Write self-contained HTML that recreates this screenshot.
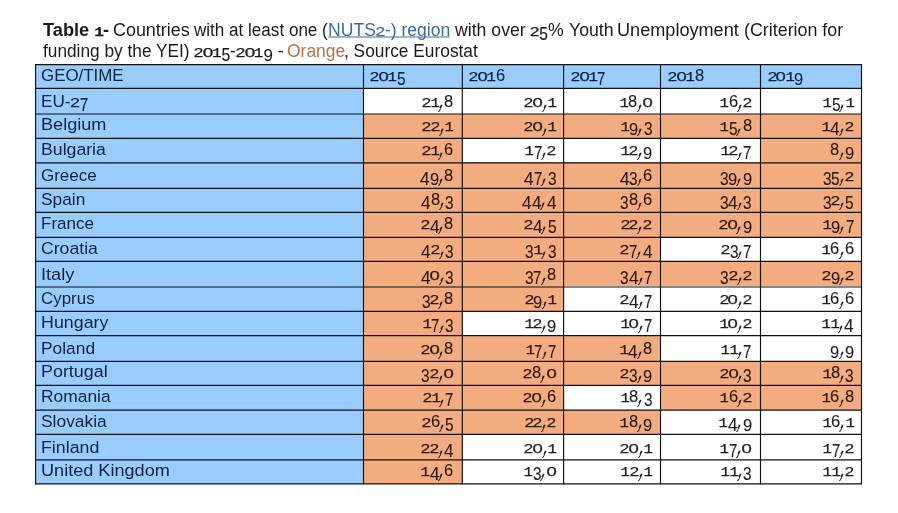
<!DOCTYPE html>
<html lang="en"><head><meta charset="utf-8"><title>Table 1 - Youth Unemployment</title>
<style>
html,body{margin:0;padding:0;background:#fff}
body{width:898px;height:513px;position:relative;overflow:hidden;font-family:"Liberation Sans",sans-serif;font-size:16.8px;color:#1a1a1a}
.t{position:absolute;white-space:nowrap;line-height:0;transform-origin:0 0}
.r{transform-origin:100% 0}
table{position:absolute;left:35px;top:64px;border-collapse:separate;border-spacing:0;table-layout:fixed;width:827px}
td,th{padding:0;margin:0;font-weight:normal;position:relative;line-height:0;text-align:left}
.b{background:#99CCFF;color:#12223d} .o{background:#F3AC80;color:#2a1910} .w{background:#fff;color:#1e1e1e}
a{color:#3b6b9e;text-decoration:none}
svg{position:absolute;left:0;top:0;pointer-events:none}
i.d{display:inline-block;font-style:normal;transform-origin:0 50%;text-align:left;line-height:0}
.dc{width:5.2px;transform:translate(2.9px,-3.0px) skewX(-22deg) scale(1.05,1.7)}
.d0,.d1,.d2{-webkit-text-stroke:0.25px currentColor}
.d3,.d4,.d5,.d6,.d7,.d8,.d9{-webkit-text-stroke:0.1px currentColor}
.d0{width:9.5px;font-size:12.0px;transform:translateX(-0.39px) scaleX(1.540)}
.d1{width:8.4px;font-size:12.0px;font-family:"Liberation Mono",monospace;transform:translateX(-0.48px) scaleX(1.300)}
.d2{width:8.8px;font-size:12.0px;transform:translateX(-0.27px) scaleX(1.400)}
.d3{width:8.6px;font-size:17.8px;transform:translateY(3.8px) scaleX(0.869)}
.d4{width:9.6px;font-size:17.8px;transform:translateY(3.8px) scaleX(0.970)}
.d5{width:8.6px;font-size:17.8px;transform:translateY(3.8px) scaleX(0.869)}
.d6{width:9.2px;font-size:16.6px;transform:scaleX(0.997)}
.d7{width:8.4px;font-size:17.8px;transform:translateY(3.8px) scaleX(0.849)}
.d8{width:9.2px;font-size:16.6px;transform:scaleX(0.997)}
.d9{width:9.2px;font-size:16.6px;transform:translateY(3.8px) scaleX(0.997)}
</style></head>
<body>
<p style="margin:0"><span class="t" style="top:30.00px;font-size:17.6px;font-weight:bold;left:43.10px;transform:scaleX(1.0361);">Table <i class="d d1">1</i>-</span>
<span class="t" style="top:30.00px;font-size:17.6px;left:113.40px;transform:scaleX(1.0184);">Countries</span>
<span class="t" style="top:30.00px;font-size:17.6px;left:194.20px;transform:scaleX(0.9703);">with at least one (</span>
<span class="t" style="top:30.00px;font-size:17.6px;left:328.10px;"><a>NUTS<i class="d d2">2</i>-) region</a></span>
<span class="t" style="top:30.00px;font-size:17.6px;left:454.80px;transform:scaleX(1.0042);">with over <i class="d d2">2</i><i class="d d5">5</i>%</span>
<span class="t" style="top:30.00px;font-size:17.6px;left:568.80px;transform:scaleX(1.0051);">Youth</span>
<span class="t" style="top:30.00px;font-size:17.6px;left:617.20px;transform:scaleX(1.0293);">Unemployment</span>
<span class="t" style="top:30.00px;font-size:17.6px;left:743.70px;transform:scaleX(1.0147);">(Criterion for</span>
<span class="t" style="top:51.00px;font-size:17.6px;left:43.20px;transform:scaleX(0.9817);">funding by the YEI)</span>
<span class="t" style="top:51.00px;font-size:17.6px;left:193.60px;transform:scaleX(1.0220);"><i class="d d2">2</i><i class="d d0">0</i><i class="d d1">1</i><i class="d d5">5</i>-<i class="d d2">2</i><i class="d d0">0</i><i class="d d1">1</i><i class="d d9">9</i> -</span>
<span class="t" style="top:51.00px;font-size:17.6px;left:287.30px;transform:scaleX(0.9917);color:#b4734a;">Orange</span>
<span class="t" style="top:51.00px;font-size:17.6px;left:344.20px;transform:scaleX(0.9843);">, Source Eurostat</span></p>
<table><colgroup>
<col style="width:328px">
<col style="width:99px">
<col style="width:101px">
<col style="width:97px">
<col style="width:100px">
<col style="width:101px">
</colgroup>
<tr style="height:24px">
<th class="b"><span class="t" style="top:12.00px;left:6.20px;transform:scaleX(1.0067);">GEO/TIME</span></th>
<th class="b"><span class="t" style="top:11.00px;font-size:18px;left:6.70px;"><i class="d d2">2</i><i class="d d0">0</i><i class="d d1">1</i><i class="d d5">5</i></span></th>
<th class="b"><span class="t" style="top:11.00px;font-size:18px;left:6.40px;"><i class="d d2">2</i><i class="d d0">0</i><i class="d d1">1</i><i class="d d6">6</i></span></th>
<th class="b"><span class="t" style="top:11.00px;font-size:18px;left:7.10px;"><i class="d d2">2</i><i class="d d0">0</i><i class="d d1">1</i><i class="d d7">7</i></span></th>
<th class="b"><span class="t" style="top:11.00px;font-size:18px;left:7.10px;"><i class="d d2">2</i><i class="d d0">0</i><i class="d d1">1</i><i class="d d8">8</i></span></th>
<th class="b"><span class="t" style="top:11.00px;font-size:18px;left:6.70px;"><i class="d d2">2</i><i class="d d0">0</i><i class="d d1">1</i><i class="d d9">9</i></span></th>
</tr>
<tr style="height:26px">
<td class="b"><span class="t" style="top:13.00px;left:5.50px;transform:scaleX(1.0218);">EU-<i class="d d2">2</i><i class="d d7">7</i></span></td>
<td class="w"><span class="t r" style="top:13.00px;font-size:18px;right:9.00px;"><i class="d d2">2</i><i class="d d1">1</i><i class="d dc">,</i><i class="d d8">8</i></span></td>
<td class="w"><span class="t r" style="top:13.00px;font-size:18px;right:7.50px;"><i class="d d2">2</i><i class="d d0">0</i><i class="d dc">,</i><i class="d d1">1</i></span></td>
<td class="w"><span class="t r" style="top:13.00px;font-size:18px;right:8.50px;"><i class="d d1">1</i><i class="d d8">8</i><i class="d dc">,</i><i class="d d0">0</i></span></td>
<td class="w"><span class="t r" style="top:13.00px;font-size:18px;right:9.00px;"><i class="d d1">1</i><i class="d d6">6</i><i class="d dc">,</i><i class="d d2">2</i></span></td>
<td class="w"><span class="t r" style="top:13.00px;font-size:18px;right:8.00px;"><i class="d d1">1</i><i class="d d5">5</i><i class="d dc">,</i><i class="d d1">1</i></span></td>
</tr>
<tr style="height:24px">
<td class="b"><span class="t" style="top:11.00px;left:5.50px;transform:scaleX(1.0785);">Belgium</span></td>
<td class="o"><span class="t r" style="top:11.00px;font-size:18px;right:9.00px;"><i class="d d2">2</i><i class="d d2">2</i><i class="d dc">,</i><i class="d d1">1</i></span></td>
<td class="o"><span class="t r" style="top:11.00px;font-size:18px;right:7.50px;"><i class="d d2">2</i><i class="d d0">0</i><i class="d dc">,</i><i class="d d1">1</i></span></td>
<td class="o"><span class="t r" style="top:11.00px;font-size:18px;right:8.50px;"><i class="d d1">1</i><i class="d d9">9</i><i class="d dc">,</i><i class="d d3">3</i></span></td>
<td class="o"><span class="t r" style="top:11.00px;font-size:18px;right:9.00px;"><i class="d d1">1</i><i class="d d5">5</i><i class="d dc">,</i><i class="d d8">8</i></span></td>
<td class="o"><span class="t r" style="top:11.00px;font-size:18px;right:8.00px;"><i class="d d1">1</i><i class="d d4">4</i><i class="d dc">,</i><i class="d d2">2</i></span></td>
</tr>
<tr style="height:24px">
<td class="b"><span class="t" style="top:12.00px;left:5.50px;transform:scaleX(1.0539);">Bulgaria</span></td>
<td class="o"><span class="t r" style="top:11.00px;font-size:18px;right:9.00px;"><i class="d d2">2</i><i class="d d1">1</i><i class="d dc">,</i><i class="d d6">6</i></span></td>
<td class="w"><span class="t r" style="top:11.00px;font-size:18px;right:7.50px;"><i class="d d1">1</i><i class="d d7">7</i><i class="d dc">,</i><i class="d d2">2</i></span></td>
<td class="w"><span class="t r" style="top:11.00px;font-size:18px;right:8.50px;"><i class="d d1">1</i><i class="d d2">2</i><i class="d dc">,</i><i class="d d9">9</i></span></td>
<td class="w"><span class="t r" style="top:11.00px;font-size:18px;right:9.00px;"><i class="d d1">1</i><i class="d d2">2</i><i class="d dc">,</i><i class="d d7">7</i></span></td>
<td class="o"><span class="t r" style="top:11.00px;font-size:18px;right:8.00px;"><i class="d d8">8</i><i class="d dc">,</i><i class="d d9">9</i></span></td>
</tr>
<tr style="height:26px">
<td class="b"><span class="t" style="top:14.00px;left:6.20px;transform:scaleX(1.0103);">Greece</span></td>
<td class="o"><span class="t r" style="top:13.00px;font-size:18px;right:9.00px;"><i class="d d4">4</i><i class="d d9">9</i><i class="d dc">,</i><i class="d d8">8</i></span></td>
<td class="o"><span class="t r" style="top:13.00px;font-size:18px;right:7.50px;"><i class="d d4">4</i><i class="d d7">7</i><i class="d dc">,</i><i class="d d3">3</i></span></td>
<td class="o"><span class="t r" style="top:13.00px;font-size:18px;right:8.50px;"><i class="d d4">4</i><i class="d d3">3</i><i class="d dc">,</i><i class="d d6">6</i></span></td>
<td class="o"><span class="t r" style="top:13.00px;font-size:18px;right:9.00px;"><i class="d d3">3</i><i class="d d9">9</i><i class="d dc">,</i><i class="d d9">9</i></span></td>
<td class="o"><span class="t r" style="top:13.00px;font-size:18px;right:8.00px;"><i class="d d3">3</i><i class="d d5">5</i><i class="d dc">,</i><i class="d d2">2</i></span></td>
</tr>
<tr style="height:24px">
<td class="b"><span class="t" style="top:12.00px;left:6.20px;transform:scaleX(1.0321);">Spain</span></td>
<td class="o"><span class="t r" style="top:11.00px;font-size:18px;right:9.00px;"><i class="d d4">4</i><i class="d d8">8</i><i class="d dc">,</i><i class="d d3">3</i></span></td>
<td class="o"><span class="t r" style="top:11.00px;font-size:18px;right:7.50px;"><i class="d d4">4</i><i class="d d4">4</i><i class="d dc">,</i><i class="d d4">4</i></span></td>
<td class="o"><span class="t r" style="top:11.00px;font-size:18px;right:8.50px;"><i class="d d3">3</i><i class="d d8">8</i><i class="d dc">,</i><i class="d d6">6</i></span></td>
<td class="o"><span class="t r" style="top:11.00px;font-size:18px;right:9.00px;"><i class="d d3">3</i><i class="d d4">4</i><i class="d dc">,</i><i class="d d3">3</i></span></td>
<td class="o"><span class="t r" style="top:11.00px;font-size:18px;right:8.00px;"><i class="d d3">3</i><i class="d d2">2</i><i class="d dc">,</i><i class="d d5">5</i></span></td>
</tr>
<tr style="height:25px">
<td class="b"><span class="t" style="top:12.00px;left:5.50px;transform:scaleX(1.0166);">France</span></td>
<td class="o"><span class="t r" style="top:11.00px;font-size:18px;right:9.00px;"><i class="d d2">2</i><i class="d d4">4</i><i class="d dc">,</i><i class="d d8">8</i></span></td>
<td class="o"><span class="t r" style="top:11.00px;font-size:18px;right:7.50px;"><i class="d d2">2</i><i class="d d4">4</i><i class="d dc">,</i><i class="d d5">5</i></span></td>
<td class="o"><span class="t r" style="top:11.00px;font-size:18px;right:8.50px;"><i class="d d2">2</i><i class="d d2">2</i><i class="d dc">,</i><i class="d d2">2</i></span></td>
<td class="o"><span class="t r" style="top:11.00px;font-size:18px;right:9.00px;"><i class="d d2">2</i><i class="d d0">0</i><i class="d dc">,</i><i class="d d9">9</i></span></td>
<td class="o"><span class="t r" style="top:11.00px;font-size:18px;right:8.00px;"><i class="d d1">1</i><i class="d d9">9</i><i class="d dc">,</i><i class="d d7">7</i></span></td>
</tr>
<tr style="height:24px">
<td class="b"><span class="t" style="top:12.00px;left:6.20px;transform:scaleX(1.0516);">Croatia</span></td>
<td class="o"><span class="t r" style="top:11.00px;font-size:18px;right:9.00px;"><i class="d d4">4</i><i class="d d2">2</i><i class="d dc">,</i><i class="d d3">3</i></span></td>
<td class="o"><span class="t r" style="top:11.00px;font-size:18px;right:7.50px;"><i class="d d3">3</i><i class="d d1">1</i><i class="d dc">,</i><i class="d d3">3</i></span></td>
<td class="o"><span class="t r" style="top:11.00px;font-size:18px;right:8.50px;"><i class="d d2">2</i><i class="d d7">7</i><i class="d dc">,</i><i class="d d4">4</i></span></td>
<td class="w"><span class="t r" style="top:11.00px;font-size:18px;right:9.00px;"><i class="d d2">2</i><i class="d d3">3</i><i class="d dc">,</i><i class="d d7">7</i></span></td>
<td class="w"><span class="t r" style="top:11.00px;font-size:18px;right:8.00px;"><i class="d d1">1</i><i class="d d6">6</i><i class="d dc">,</i><i class="d d6">6</i></span></td>
</tr>
<tr style="height:25px">
<td class="b"><span class="t" style="top:14.00px;left:6.20px;transform:scaleX(1.0851);">Italy</span></td>
<td class="o"><span class="t r" style="top:13.00px;font-size:18px;right:9.00px;"><i class="d d4">4</i><i class="d d0">0</i><i class="d dc">,</i><i class="d d3">3</i></span></td>
<td class="o"><span class="t r" style="top:13.00px;font-size:18px;right:7.50px;"><i class="d d3">3</i><i class="d d7">7</i><i class="d dc">,</i><i class="d d8">8</i></span></td>
<td class="o"><span class="t r" style="top:13.00px;font-size:18px;right:8.50px;"><i class="d d3">3</i><i class="d d4">4</i><i class="d dc">,</i><i class="d d7">7</i></span></td>
<td class="o"><span class="t r" style="top:13.00px;font-size:18px;right:9.00px;"><i class="d d3">3</i><i class="d d2">2</i><i class="d dc">,</i><i class="d d2">2</i></span></td>
<td class="o"><span class="t r" style="top:13.00px;font-size:18px;right:8.00px;"><i class="d d2">2</i><i class="d d9">9</i><i class="d dc">,</i><i class="d d2">2</i></span></td>
</tr>
<tr style="height:25px">
<td class="b"><span class="t" style="top:13.00px;left:6.20px;transform:scaleX(1.0083);">Cyprus</span></td>
<td class="o"><span class="t r" style="top:12.00px;font-size:18px;right:9.00px;"><i class="d d3">3</i><i class="d d2">2</i><i class="d dc">,</i><i class="d d8">8</i></span></td>
<td class="o"><span class="t r" style="top:12.00px;font-size:18px;right:7.50px;"><i class="d d2">2</i><i class="d d9">9</i><i class="d dc">,</i><i class="d d1">1</i></span></td>
<td class="w"><span class="t r" style="top:12.00px;font-size:18px;right:8.50px;"><i class="d d2">2</i><i class="d d4">4</i><i class="d dc">,</i><i class="d d7">7</i></span></td>
<td class="w"><span class="t r" style="top:12.00px;font-size:18px;right:9.00px;"><i class="d d2">2</i><i class="d d0">0</i><i class="d dc">,</i><i class="d d2">2</i></span></td>
<td class="w"><span class="t r" style="top:12.00px;font-size:18px;right:8.00px;"><i class="d d1">1</i><i class="d d6">6</i><i class="d dc">,</i><i class="d d6">6</i></span></td>
</tr>
<tr style="height:24px">
<td class="b"><span class="t" style="top:12.00px;left:5.50px;transform:scaleX(1.0625);">Hungary</span></td>
<td class="o"><span class="t r" style="top:11.00px;font-size:18px;right:9.00px;"><i class="d d1">1</i><i class="d d7">7</i><i class="d dc">,</i><i class="d d3">3</i></span></td>
<td class="w"><span class="t r" style="top:11.00px;font-size:18px;right:7.50px;"><i class="d d1">1</i><i class="d d2">2</i><i class="d dc">,</i><i class="d d9">9</i></span></td>
<td class="w"><span class="t r" style="top:11.00px;font-size:18px;right:8.50px;"><i class="d d1">1</i><i class="d d0">0</i><i class="d dc">,</i><i class="d d7">7</i></span></td>
<td class="w"><span class="t r" style="top:11.00px;font-size:18px;right:9.00px;"><i class="d d1">1</i><i class="d d0">0</i><i class="d dc">,</i><i class="d d2">2</i></span></td>
<td class="w"><span class="t r" style="top:11.00px;font-size:18px;right:8.00px;"><i class="d d1">1</i><i class="d d1">1</i><i class="d dc">,</i><i class="d d4">4</i></span></td>
</tr>
<tr style="height:26px">
<td class="b"><span class="t" style="top:14.00px;left:5.50px;transform:scaleX(1.0351);">Poland</span></td>
<td class="o"><span class="t r" style="top:13.00px;font-size:18px;right:9.00px;"><i class="d d2">2</i><i class="d d0">0</i><i class="d dc">,</i><i class="d d8">8</i></span></td>
<td class="o"><span class="t r" style="top:13.00px;font-size:18px;right:7.50px;"><i class="d d1">1</i><i class="d d7">7</i><i class="d dc">,</i><i class="d d7">7</i></span></td>
<td class="o"><span class="t r" style="top:13.00px;font-size:18px;right:8.50px;"><i class="d d1">1</i><i class="d d4">4</i><i class="d dc">,</i><i class="d d8">8</i></span></td>
<td class="w"><span class="t r" style="top:13.00px;font-size:18px;right:9.00px;"><i class="d d1">1</i><i class="d d1">1</i><i class="d dc">,</i><i class="d d7">7</i></span></td>
<td class="w"><span class="t r" style="top:13.00px;font-size:18px;right:8.00px;"><i class="d d9">9</i><i class="d dc">,</i><i class="d d9">9</i></span></td>
</tr>
<tr style="height:24px">
<td class="b"><span class="t" style="top:11.00px;left:5.50px;transform:scaleX(1.0669);">Portugal</span></td>
<td class="o"><span class="t r" style="top:11.00px;font-size:18px;right:9.00px;"><i class="d d3">3</i><i class="d d2">2</i><i class="d dc">,</i><i class="d d0">0</i></span></td>
<td class="o"><span class="t r" style="top:11.00px;font-size:18px;right:7.50px;"><i class="d d2">2</i><i class="d d8">8</i><i class="d dc">,</i><i class="d d0">0</i></span></td>
<td class="o"><span class="t r" style="top:11.00px;font-size:18px;right:8.50px;"><i class="d d2">2</i><i class="d d3">3</i><i class="d dc">,</i><i class="d d9">9</i></span></td>
<td class="o"><span class="t r" style="top:11.00px;font-size:18px;right:9.00px;"><i class="d d2">2</i><i class="d d0">0</i><i class="d dc">,</i><i class="d d3">3</i></span></td>
<td class="o"><span class="t r" style="top:11.00px;font-size:18px;right:8.00px;"><i class="d d1">1</i><i class="d d8">8</i><i class="d dc">,</i><i class="d d3">3</i></span></td>
</tr>
<tr style="height:25px">
<td class="b"><span class="t" style="top:12.00px;left:5.50px;transform:scaleX(1.0361);">Romania</span></td>
<td class="o"><span class="t r" style="top:11.00px;font-size:18px;right:9.00px;"><i class="d d2">2</i><i class="d d1">1</i><i class="d dc">,</i><i class="d d7">7</i></span></td>
<td class="o"><span class="t r" style="top:11.00px;font-size:18px;right:7.50px;"><i class="d d2">2</i><i class="d d0">0</i><i class="d dc">,</i><i class="d d6">6</i></span></td>
<td class="w"><span class="t r" style="top:11.00px;font-size:18px;right:8.50px;"><i class="d d1">1</i><i class="d d8">8</i><i class="d dc">,</i><i class="d d3">3</i></span></td>
<td class="o"><span class="t r" style="top:11.00px;font-size:18px;right:9.00px;"><i class="d d1">1</i><i class="d d6">6</i><i class="d dc">,</i><i class="d d2">2</i></span></td>
<td class="o"><span class="t r" style="top:11.00px;font-size:18px;right:8.00px;"><i class="d d1">1</i><i class="d d6">6</i><i class="d dc">,</i><i class="d d8">8</i></span></td>
</tr>
<tr style="height:24px">
<td class="b"><span class="t" style="top:12.00px;left:6.20px;transform:scaleX(1.0372);">Slovakia</span></td>
<td class="o"><span class="t r" style="top:11.00px;font-size:18px;right:9.00px;"><i class="d d2">2</i><i class="d d6">6</i><i class="d dc">,</i><i class="d d5">5</i></span></td>
<td class="o"><span class="t r" style="top:11.00px;font-size:18px;right:7.50px;"><i class="d d2">2</i><i class="d d2">2</i><i class="d dc">,</i><i class="d d2">2</i></span></td>
<td class="o"><span class="t r" style="top:11.00px;font-size:18px;right:8.50px;"><i class="d d1">1</i><i class="d d8">8</i><i class="d dc">,</i><i class="d d9">9</i></span></td>
<td class="w"><span class="t r" style="top:11.00px;font-size:18px;right:9.00px;"><i class="d d1">1</i><i class="d d4">4</i><i class="d dc">,</i><i class="d d9">9</i></span></td>
<td class="w"><span class="t r" style="top:11.00px;font-size:18px;right:8.00px;"><i class="d d1">1</i><i class="d d6">6</i><i class="d dc">,</i><i class="d d1">1</i></span></td>
</tr>
<tr style="height:25px">
<td class="b"><span class="t" style="top:14.00px;left:5.50px;transform:scaleX(1.0609);">Finland</span></td>
<td class="o"><span class="t r" style="top:13.00px;font-size:18px;right:9.00px;"><i class="d d2">2</i><i class="d d2">2</i><i class="d dc">,</i><i class="d d4">4</i></span></td>
<td class="w"><span class="t r" style="top:13.00px;font-size:18px;right:7.50px;"><i class="d d2">2</i><i class="d d0">0</i><i class="d dc">,</i><i class="d d1">1</i></span></td>
<td class="w"><span class="t r" style="top:13.00px;font-size:18px;right:8.50px;"><i class="d d2">2</i><i class="d d0">0</i><i class="d dc">,</i><i class="d d1">1</i></span></td>
<td class="w"><span class="t r" style="top:13.00px;font-size:18px;right:9.00px;"><i class="d d1">1</i><i class="d d7">7</i><i class="d dc">,</i><i class="d d0">0</i></span></td>
<td class="w"><span class="t r" style="top:13.00px;font-size:18px;right:8.00px;"><i class="d d1">1</i><i class="d d7">7</i><i class="d dc">,</i><i class="d d2">2</i></span></td>
</tr>
<tr style="height:25px">
<td class="b"><span class="t" style="top:12.00px;left:5.50px;transform:scaleX(1.0787);">United Kingdom</span></td>
<td class="o"><span class="t r" style="top:11.00px;font-size:18px;right:9.00px;"><i class="d d1">1</i><i class="d d4">4</i><i class="d dc">,</i><i class="d d6">6</i></span></td>
<td class="w"><span class="t r" style="top:11.00px;font-size:18px;right:7.50px;"><i class="d d1">1</i><i class="d d3">3</i><i class="d dc">,</i><i class="d d0">0</i></span></td>
<td class="w"><span class="t r" style="top:11.00px;font-size:18px;right:8.50px;"><i class="d d1">1</i><i class="d d2">2</i><i class="d dc">,</i><i class="d d1">1</i></span></td>
<td class="w"><span class="t r" style="top:11.00px;font-size:18px;right:9.00px;"><i class="d d1">1</i><i class="d d1">1</i><i class="d dc">,</i><i class="d d3">3</i></span></td>
<td class="w"><span class="t r" style="top:11.00px;font-size:18px;right:8.00px;"><i class="d d1">1</i><i class="d d1">1</i><i class="d dc">,</i><i class="d d2">2</i></span></td>
</tr>
</table>
<svg width="898" height="513" viewBox="0 0 898 513">
<g stroke="#111" stroke-width="1.15">
<line x1="35.1" x2="862.0" y1="64.6" y2="64.6"/>
<line x1="35.1" x2="862.0" y1="88.4" y2="88.4"/>
<line x1="35.1" x2="862.0" y1="114.0" y2="114.0"/>
<line x1="35.1" x2="862.0" y1="138.4" y2="138.4"/>
<line x1="35.1" x2="862.0" y1="162.9" y2="162.9"/>
<line x1="35.1" x2="862.0" y1="188.4" y2="188.4"/>
<line x1="35.1" x2="862.0" y1="212.4" y2="212.4"/>
<line x1="35.1" x2="862.0" y1="237.3" y2="237.3"/>
<line x1="35.1" x2="862.0" y1="261.4" y2="261.4"/>
<line x1="35.1" x2="862.0" y1="287.0" y2="287.0"/>
<line x1="35.1" x2="862.0" y1="311.4" y2="311.4"/>
<line x1="35.1" x2="862.0" y1="335.6" y2="335.6"/>
<line x1="35.1" x2="862.0" y1="361.4" y2="361.4"/>
<line x1="35.1" x2="862.0" y1="385.4" y2="385.4"/>
<line x1="35.1" x2="862.0" y1="410.1" y2="410.1"/>
<line x1="35.1" x2="862.0" y1="434.4" y2="434.4"/>
<line x1="35.1" x2="862.0" y1="459.9" y2="459.9"/>
<line x1="35.1" x2="862.0" y1="483.9" y2="483.9"/>
<line y1="64.1" y2="484.4" x1="35.6" x2="35.6"/>
<line y1="64.1" y2="484.4" x1="363.5" x2="363.5"/>
<line y1="64.1" y2="484.4" x1="462.3" x2="462.3"/>
<line y1="64.1" y2="484.4" x1="563.6" x2="563.6"/>
<line y1="64.1" y2="484.4" x1="660.5" x2="660.5"/>
<line y1="64.1" y2="484.4" x1="760.5" x2="760.5"/>
<line y1="64.1" y2="484.4" x1="861.5" x2="861.5"/>
</g>
<line x1="328.3" x2="449.8" y1="37" y2="37" stroke="#3b6b9e" stroke-width="1.1"/>
</svg>
</body></html>
